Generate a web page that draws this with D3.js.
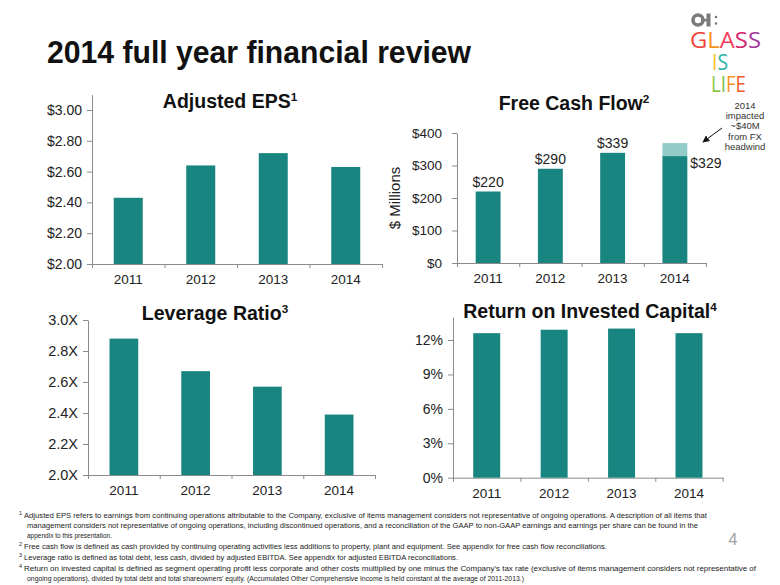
<!DOCTYPE html>
<html><head><meta charset="utf-8">
<script src="https://cdn.jsdelivr.net/npm/d3@7"></script>
<style>
body{margin:0;background:#fff;}
svg{display:block;font-family:"Liberation Sans",Arial,sans-serif;}
</style></head>
<body><svg id="c" width="780" height="585"></svg>
<script>
const years = ["2011","2012","2013","2014"];
const epsValues = [2.43, 2.64, 2.72, 2.63];
const epsTicks = [2.0, 2.2, 2.4, 2.6, 2.8, 3.0];
const fcfValues = [220, 290, 339, 329];
const fcfFxImpact = [0, 0, 0, 40];
const fcfTicks = [0, 100, 200, 300, 400];
const leverageValues = [2.88, 2.67, 2.57, 2.39];
const leverageTicks = [2.0, 2.2, 2.4, 2.6, 2.8, 3.0];
const roicValues = [12.6, 12.9, 13.0, 12.6];
const roicTicks = [0, 3, 6, 9, 12];
const footnotes = [
  {sup:"1", lines:["Adjusted EPS refers to earnings from continuing operations attributable to the Company, exclusive of items management considers not representative of ongoing operations. A description of all items that",
    "management considers not representative of ongoing operations, including discontinued operations, and a reconciliation of the GAAP to non-GAAP earnings and earnings per share can be found in the",
    "appendix to this presentation."]},
  {sup:"2", lines:["Free cash flow is defined as cash provided by continuing operating activities less additions to property, plant and equipment. See appendix for free cash flow reconciliations."]},
  {sup:"3", lines:["Leverage ratio is defined as total debt, less cash, divided by adjusted EBITDA. See appendix for adjusted EBITDA reconciliations."]},
  {sup:"4", lines:["Return on invested capital is defined as segment operating profit less corporate and other costs multiplied by one minus the Company\u2019s tax rate (exclusive of items management considers not representative of",
    "ongoing operations), divided by total debt and total shareowners\u2019 equity. (Accumulated Other Comprehensive Income is held constant at the average of 2011-2013.)"]}
];

const BAR = "#188580", LIGHT = "#93cbc8", AX = "#8c8c8c", TXT = "#222";
const svg = d3.select("#c");

svg.append("text").attr("x",47).attr("y",63).attr("font-size",32).attr("font-weight","bold")
  .attr("textLength",424).attr("lengthAdjust","spacingAndGlyphs").attr("fill","#111")
  .text("2014 full year financial review");

function chart(o){
  const g = svg.append("g");
  const x = d3.scaleBand().domain(years).range([o.x0,o.x1]).paddingInner(0.6).paddingOuter(0.3);
  const y = d3.scaleLinear().domain(o.domain).range([o.yb,o.yt]);
  const bx = d3.scaleLinear().domain([0,years.length]).range([o.x0,o.x1]);
  const ya = d3.axisLeft(y).tickValues(o.ticks).tickFormat(o.fmt).tickSize(5).tickSizeOuter(0).tickPadding(o.pad||5);
  const yg = g.append("g").attr("transform",`translate(${o.x0},0)`).call(ya);
  yg.select(".domain").attr("stroke",AX);
  yg.selectAll(".tick line").attr("stroke",AX);
  yg.selectAll("text").attr("font-size",o.yfs||13.5).attr("fill",TXT).attr("font-family","Liberation Sans, Arial");
  const xa = d3.axisBottom(bx).tickValues(d3.range(years.length+1)).tickFormat("").tickSize(4).tickSizeOuter(0);
  const xg = g.append("g").attr("transform",`translate(0,${o.yb})`).call(xa);
  xg.select(".domain").attr("stroke",AX);
  xg.selectAll(".tick line").attr("stroke",AX);
  g.selectAll(".xl").data(years).join("text").attr("x",d=>x(d)+x.bandwidth()/2).attr("y",o.yb+20)
    .attr("text-anchor","middle").attr("font-size",13.5).attr("fill",TXT).text(d=>d);
  g.selectAll(".bar").data(o.values).join("rect").attr("x",(d,i)=>x(years[i])).attr("width",x.bandwidth())
    .attr("y",d=>y(d)).attr("height",d=>y(o.domain[0])-y(d)).attr("fill",BAR);
  const t = g.append("text").attr("x",o.tx).attr("y",o.ty).attr("text-anchor","middle")
    .attr("font-size",o.tfs||19.5).attr("font-weight","bold").attr("fill","#111");
  t.append("tspan").text(o.title);
  t.append("tspan").attr("font-size",(o.tfs||19.5)*0.6).attr("dy",-7).text(o.sup);
  return {g,x,y};
}

chart({x0:92,x1:382,yb:264,yt:94.6,domain:[2,3.1],ticks:epsTicks,fmt:d=>"$"+d.toFixed(2),values:epsValues,
  title:"Adjusted EPS",sup:"1",tx:230,ty:108,yfs:14});

const fcf = chart({x0:457,x1:706,yb:263,yt:133,domain:[0,400],ticks:fcfTicks,fmt:d=>"$"+d,values:fcfValues,
  title:"Free Cash Flow",sup:"2",tx:574,ty:110,pad:10,yfs:13.5});
fcf.g.selectAll(".fx").data(fcfFxImpact).join("rect")
  .attr("x",(d,i)=>fcf.x(years[i])).attr("width",fcf.x.bandwidth())
  .attr("y",(d,i)=>fcf.y(fcfValues[i]+d)).attr("height",(d,i)=>fcf.y(fcfValues[i])-fcf.y(fcfValues[i]+d))
  .attr("fill",LIGHT);
fcf.g.selectAll(".vl").data(fcfValues).join("text")
  .attr("x",(d,i)=> fcfFxImpact[i]===0 ? fcf.x(years[i])+fcf.x.bandwidth()/2 : fcf.x(years[i])+fcf.x.bandwidth()+3)
  .attr("y",(d,i)=> fcfFxImpact[i]===0 ? fcf.y(d)-5 : fcf.y(d)+12)
  .attr("text-anchor",(d,i)=> fcfFxImpact[i]===0 ? "middle" : "start")
  .attr("font-size",14).attr("fill",TXT).text(d=>"$"+d);
svg.append("text").attr("transform","translate(400,198) rotate(-90)").attr("text-anchor","middle")
  .attr("font-size",15).attr("fill",TXT).text("$ Millions");
const ann = ["2014","impacted","~$40M","from FX","headwind"];
svg.append("g").selectAll("text").data(ann).join("text").attr("x",745).attr("y",(d,i)=>108.5+i*10.4)
  .attr("text-anchor","middle").attr("font-size",9.5).attr("fill","#333").text(d=>d);
svg.append("defs").append("marker").attr("id","ah").attr("viewBox","0 0 10 10").attr("refX",9).attr("refY",5)
  .attr("markerWidth",7).attr("markerHeight",7).attr("orient","auto")
  .append("path").attr("d","M0,0L10,5L0,10z").attr("fill","#111");
svg.append("line").attr("x1",722).attr("y1",128).attr("x2",703).attr("y2",142).attr("stroke","#111")
  .attr("stroke-width",1).attr("marker-end","url(#ah)");

chart({x0:88,x1:375,yb:475,yt:320,domain:[2,3],ticks:leverageTicks,fmt:d=>d.toFixed(1)+"X",values:leverageValues,
  title:"Leverage Ratio",sup:"3",tx:215,ty:320,yfs:14.5});

chart({x0:453,x1:722.7,yb:477.7,yt:317.1,domain:[0,14],ticks:roicTicks,fmt:d=>d+"%",values:roicValues,
  title:"Return on Invested Capital",sup:"4",tx:590,ty:318,yfs:14});

const fy = [517.5,527.5,537.5,548.5,559.5,570.5,580.5];
const ends = [[707,698,112],[607],[458],[756,524]];
let li = 0;
const fg = svg.append("g").attr("font-size",7.8).attr("fill","#222");
footnotes.forEach((f,fi)=>{
  fg.append("text").attr("x",19).attr("y",fy[li]-2.5).attr("font-size",5.5).text(f.sup);
  f.lines.forEach((l,k)=>{
    const xs = k===0 ? 24 : 27;
    fg.append("text").attr("x",xs).attr("y",fy[li]).attr("textLength",ends[fi][k]-xs)
      .attr("lengthAdjust","spacingAndGlyphs").text(l);
    li++;
  });
});
svg.append("text").attr("x",733).attr("y",545).attr("text-anchor","middle").attr("font-size",16)
  .attr("fill","#a0a0a0").text("4");

// logo
const lg = svg.append("g");
lg.append("circle").attr("cx",698).attr("cy",20).attr("r",5).attr("fill","none").attr("stroke","#7a7a7a").attr("stroke-width",3.6);
lg.append("rect").attr("x",701).attr("y",18.8).attr("width",6).attr("height",2.6).attr("fill","#7a7a7a");
lg.append("rect").attr("x",706.5).attr("y",13.5).attr("width",4).attr("height",13).attr("fill","#7a7a7a");
lg.append("circle").attr("cx",716).attr("cy",17).attr("r",1.3).attr("fill","#7a7a7a");
lg.append("circle").attr("cx",716).attr("cy",23.5).attr("r",1.3).attr("fill","#7a7a7a");
const logoWords = [
  {w:"GLASS", c:["#ef4136","#f7941d","#ee3d5a","#d6246e","#a3379b"], x:690, y:48, len:71},
  {w:"IS", c:["#f6c31a","#27b3a6"], x:712, y:70, len:16},
  {w:"LIFE", c:["#8cc63f","#7ac143","#f7941d","#f15a29"], x:711, y:92, len:35}
];
const lt = lg.append("text").attr("font-size",22).attr("font-family","'Open Sans', Lato, sans-serif").attr("font-weight",400);
logoWords.forEach(w=>{
  const ts = lt.append("tspan").attr("x",w.x).attr("y",w.y).attr("textLength",w.len).attr("lengthAdjust","spacingAndGlyphs");
  w.w.split("").forEach((ch,i)=>ts.append("tspan").attr("fill",w.c[i]).text(ch));
});
</script></body></html>
